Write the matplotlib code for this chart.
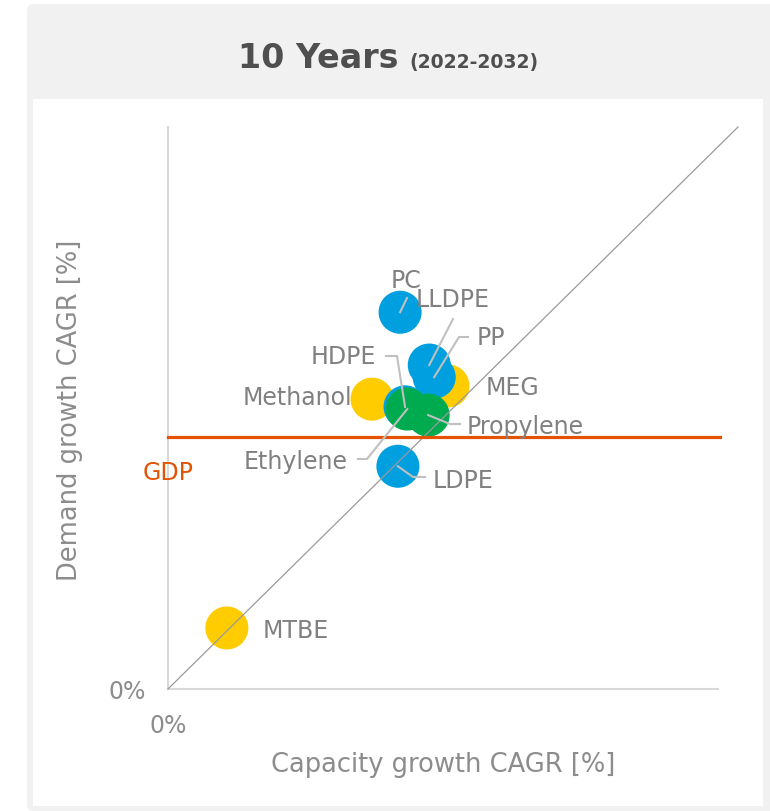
import matplotlib.pyplot as plt
from matplotlib.patches import Rectangle, FancyBboxPatch

plt.rcParams['font.family'] = ['DejaVu Sans']

# data (capacity growth vs demand growth, arbitrary % units)
names = ['PC', 'LLDPE', 'PP', 'MEG', 'Methanol', 'HDPE', 'Ethylene', 'Propylene', 'LDPE', 'MTBE']
capacity = [4.22, 4.75, 4.84, 5.09, 3.71, 4.31, 4.35, 4.73, 4.18, 1.07]
demand = [6.85, 5.89, 5.67, 5.51, 5.27, 5.13, 5.09, 4.98, 4.05, 1.11]
groups = ['poly', 'poly', 'poly', 'chem', 'chem', 'poly', 'olefin', 'olefin', 'poly', 'chem']
gdp = 4.58

colors = {'chem': '#FFCC00', 'poly': '#009FDF', 'olefin': '#00AA4F'}
draw_order = ['chem', 'poly', 'olefin']

W, H = 770, 812
X0, Y0, UNIT = 168, 690, 55.0   # axes origin in pixels, pixels per unit
FS = 17


def px(x, y):
    # pixel position -> data coords
    return (x - X0) / UNIT, (Y0 - y) / UNIT


# label anchors (pixels) and leader elbows (pixels)
label_pos = {
    'PC': (406, 281, 'center'), 'LLDPE': (453, 300, 'center'), 'PP': (491, 338, 'center'),
    'MEG': (513, 388, 'center'), 'Methanol': (352, 398, 'right'), 'HDPE': (376, 357, 'right'),
    'Ethylene': (348, 462, 'right'), 'Propylene': (467, 427, 'left'), 'LDPE': (433, 481, 'left'),
    'MTBE': (263, 631, 'left'),
}
leaders = {
    'PC': [(407, 299)],
    'LLDPE': [(453, 320)],
    'PP': [(459, 338), (468, 338)],
    'HDPE': [(397, 357), (386, 357)],
    'Ethylene': [(367, 460), (358, 460)],
    'Propylene': [(450, 425), (460, 425)],
    'LDPE': [(413, 478), (425, 478)],
}

fig = plt.figure(figsize=(W / 100, H / 100), dpi=100)
fig.patch.set_facecolor('white')

# panel backgrounds
fig.patches.append(FancyBboxPatch((27 / W, 0), (W - 27) / W + 0.02, (H - 5) / H,
                                  boxstyle='round,pad=0,rounding_size=0.008',
                                  transform=fig.transFigure, facecolor='#f1f1f1',
                                  edgecolor='none', zorder=-2))
fig.patches.append(Rectangle((33 / W, (H - 807) / H), (763 - 33) / W, (807 - 100) / H,
                             transform=fig.transFigure, facecolor='white',
                             edgecolor='none', zorder=-1))

ax = fig.add_axes([X0 / W, (H - Y0) / H, (738 - X0) / W, (Y0 - 128) / H])
ax.set_zorder(2)
ax.set_facecolor('none')
xmax, ymax = (738 - X0) / UNIT, (Y0 - 128) / UNIT
ax.set_xlim(0, xmax)
ax.set_ylim(0, ymax)

for s in ['top', 'right']:
    ax.spines[s].set_visible(False)
for s in ['left', 'bottom']:
    ax.spines[s].set_color('#d9d9d9')
    ax.spines[s].set_linewidth(1.5)
ax.spines['bottom'].set_bounds(0, (718 - X0) / UNIT)

ax.set_xticks([0])
ax.set_xticklabels(['0%'])
ax.set_yticks([0])
ax.set_yticklabels(['0%'])
ax.tick_params(length=0, labelsize=FS, labelcolor='#8c8c8c')
ax.tick_params(axis='x', pad=17)
ax.tick_params(axis='y', pad=16)

# bubbles
for g in draw_order:
    xs = [c for c, gg in zip(capacity, groups) if gg == g]
    ys = [d for d, gg in zip(demand, groups) if gg == g]
    ax.scatter(xs, ys, s=960, color=colors[g], edgecolor='none', zorder=3)

# diagonal parity line
ax.plot([0, xmax], [0, ymax], color='#9a9a9a', lw=0.9, zorder=4, clip_on=False)

# GDP line
ax.plot([0, (720 - X0) / UNIT], [gdp, gdp], color='#E35205', lw=2.3, zorder=4, clip_on=False)
gx, gy = px(X0, 473)
ax.text(gx, gy, 'GDP', color='#E35205', fontsize=FS, ha='center', va='center', zorder=5)

# leader lines and labels
for n, c, d in zip(names, capacity, demand):
    if n in leaders:
        pts = [(c, d)] + [px(*p) for p in leaders[n]]
        ax.plot([p[0] for p in pts], [p[1] for p in pts], color='#c0c0c0', lw=1.5,
                zorder=5, clip_on=False)
    lx, ly, ha = label_pos[n]
    tx, ty = px(lx, ly)
    ax.text(tx, ty, n, fontsize=FS, color='#808080', ha=ha, va='center', zorder=6)

# axis titles
fig.text(443 / W, 1 - 765 / H, 'Capacity growth CAGR [%]', fontsize=18.5, color='#8c8c8c',
         ha='center', va='center')
fig.text(70 / W, 1 - 410 / H, 'Demand growth CAGR [%]', fontsize=18.5, color='#8c8c8c',
         ha='center', va='center', rotation=90)

# title
fig.text(399 / W, 1 - 68 / H, '10 Years', fontsize=24, fontweight='bold', color='#4f4f4f',
         ha='right', va='baseline')
fig.text(409 / W, 1 - 68 / H, '(2022-2032)', fontsize=13.5, fontweight='bold', color='#4f4f4f',
         ha='left', va='baseline')

fig.savefig('out.png', dpi=100, facecolor=fig.get_facecolor())
